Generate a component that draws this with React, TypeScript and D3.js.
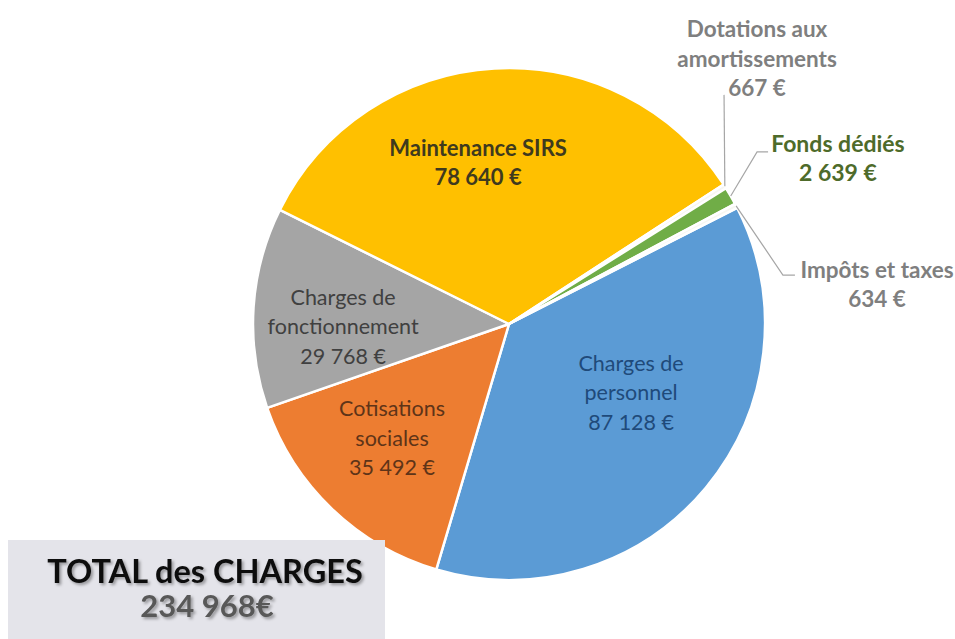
import React from "react";
import * as d3 from "d3";

const categories = [
  "Charges de personnel",
  "Cotisations sociales",
  "Charges de fonctionnement",
  "Maintenance SIRS",
  "Dotations aux amortissements",
  "Fonds dédiés",
  "Impôts et taxes",
];
const values = [87128, 35492, 29768, 78640, 667, 2639, 634];
const labelLines = [
  ["Charges de", "personnel"],
  ["Cotisations", "sociales"],
  ["Charges de", "fonctionnement"],
  ["Maintenance SIRS"],
  ["Dotations aux", "amortissements"],
  ["Fonds dédiés"],
  ["Impôts et taxes"],
];
const totalTitle = "TOTAL des CHARGES";

const colors = ["#5B9BD5", "#ED7D31", "#A5A5A5", "#FFC000", "#F7F7F2", "#70AD47", "#F7F7F2"];
const textColors = ["#1F4A7A", "#5E3418", "#404040", "#3F3A1E", "#7F7F7F", "#4E6B2A", "#7F7F7F"];
const textWeights = [400, 400, 400, 700, 700, 700, 700];
const textSizes = [21.5, 21.5, 21.5, 22, 22.5, 23, 22.5];

const W = 955;
const H = 639;
const cx = 509;
const cy = 324;
const R = 256;
const startDeg = 63;

// label block centre (units of R, relative to the pie centre)
const labelPos: [number, number][] = [
  [0.477, 0.266],
  [-0.457, 0.445],
  [-0.648, 0.008],
  [-0.121, -0.633],
  [0.969, -1.039],
  [1.285, -0.65],
  [1.4375, -0.156],
];
// leader polylines (elbow, end) in units of R, null for inside labels
const leaders: ([number, number][] | null)[] = [
  null,
  null,
  null,
  null,
  [[0.84, -0.895]],
  [[0.969, -0.672], [1.012, -0.672]],
  [[1.07, -0.191], [1.117, -0.191]],
];

const locale = d3.formatLocale({ decimal: ",", thousands: " ", grouping: [3], currency: ["", " €"] });
const fmt = locale.format(",d");

export default function App() {
  const pie = d3
    .pie<number>()
    .sort(null)
    .value((d) => d)
    .startAngle((startDeg * Math.PI) / 180)
    .endAngle(((startDeg + 360) * Math.PI) / 180);
  const arcs = pie(values);
  const arcGen = d3.arc<d3.PieArcDatum<number>>().innerRadius(0).outerRadius(R);
  const total = d3.sum(values);
  const lineH = 29.5;
  const fontFamily = "Lato, 'Open Sans', sans-serif";

  return (
    <svg width={W} height={H} style={{ position: "absolute", left: 0, top: 0, background: "#fff" }}>
      <defs>
        <filter id="sh" x="-10%" y="-30%" width="120%" height="160%">
          <feDropShadow dx="2" dy="2" stdDeviation="1.6" floodColor="#000" floodOpacity="0.35" />
        </filter>
      </defs>
      <g transform={`translate(${cx},${cy})`}>
        {arcs.map((a, i) => (
          <path key={categories[i]} d={arcGen(a) || ""} fill={colors[i]} stroke="#ffffff" strokeWidth={2.5} strokeLinejoin="round" />
        ))}
        {arcs.map((a, i) => {
          const ld = leaders[i];
          if (!ld) return null;
          const mid = (a.startAngle + a.endAngle) / 2;
          const sx = Math.sin(mid) * R;
          const sy = -Math.cos(mid) * R;
          const pts = [[sx, sy], ...ld.map(([x, y]) => [x * R, y * R])];
          return (
            <polyline
              key={"l" + i}
              points={pts.map((p) => p.join(",")).join(" ")}
              fill="none"
              stroke="#A6A6A6"
              strokeWidth={1.2}
            />
          );
        })}
        {arcs.map((a, i) => {
          const lines = [...labelLines[i], `${fmt(values[i])} €`];
          const [lx, ly] = labelPos[i];
          const x = lx * R;
          const y0 = ly * R - ((lines.length - 1) * lineH) / 2;
          return (
            <text
              key={"t" + i}
              textAnchor="middle"
              fontFamily={fontFamily}
              fontSize={textSizes[i]}
              fontWeight={textWeights[i]}
              fill={textColors[i]}
            >
              {lines.map((s, k) => (
                <tspan key={k} x={x} y={y0 + k * lineH} dominantBaseline="central">
                  {s}
                </tspan>
              ))}
            </text>
          );
        })}
      </g>
      <rect x={8} y={540} width={377} height={110} fill="#E4E4EA" />
      <text x={205} y={570} textAnchor="middle" dominantBaseline="central" fontFamily={fontFamily} fontSize={32.5} fontWeight={700} fill="#111" filter="url(#sh)">
        {totalTitle}
      </text>
      <text x={207} y={605} textAnchor="middle" dominantBaseline="central" fontFamily={fontFamily} fontSize={31} fontWeight={700} fill="#595959" filter="url(#sh)">
        {`${fmt(total)}€`}
      </text>
    </svg>
  );
}
